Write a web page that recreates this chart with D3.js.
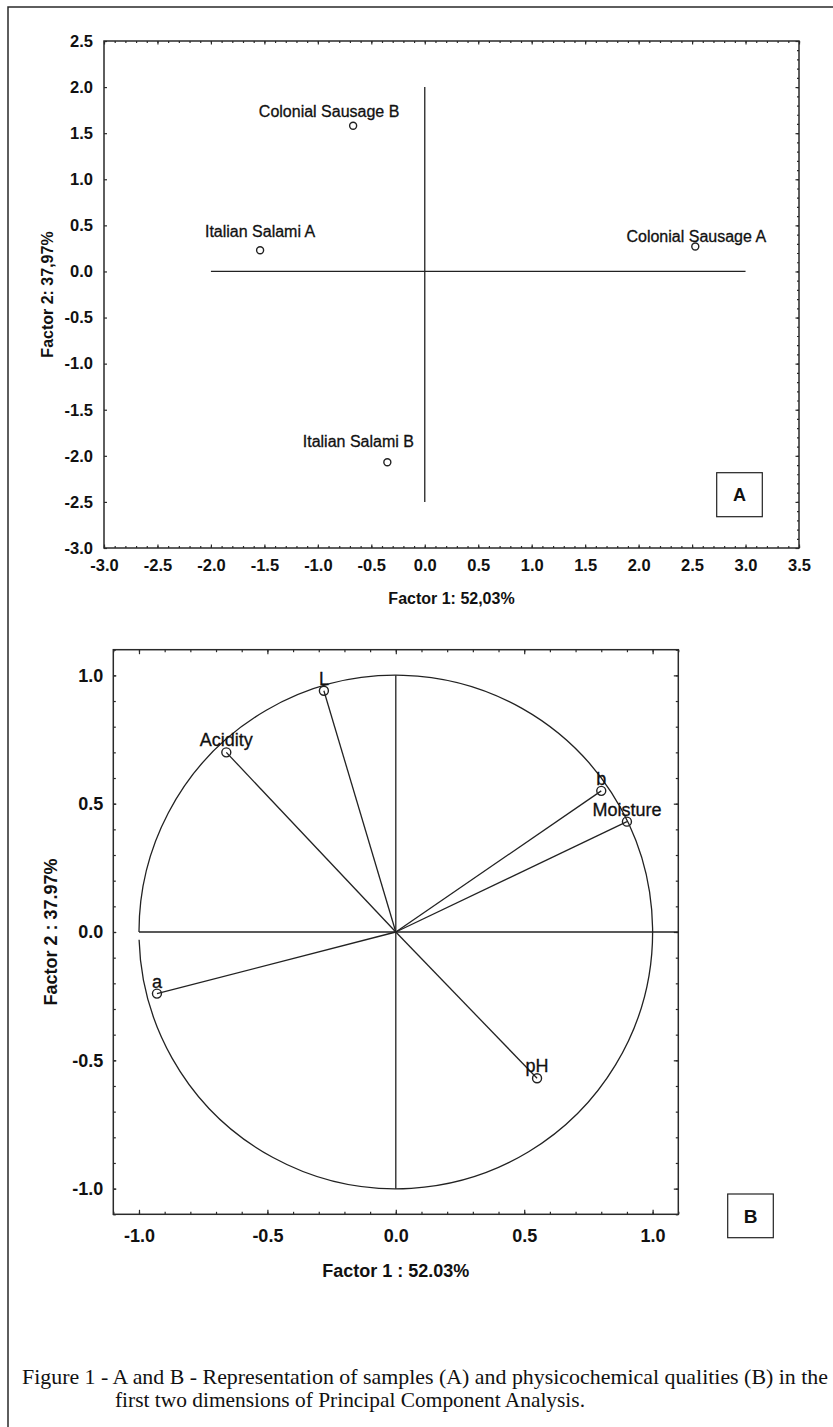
<!DOCTYPE html>
<html>
<head>
<meta charset="utf-8">
<script src="https://cdn.jsdelivr.net/npm/d3@7"></script>
<style>
  body { margin: 0; background: #fff; }
  svg { display: block; font-family: "Liberation Sans", Arial, sans-serif; }
  .frame { fill: none; stroke: #2a2a2a; stroke-width: 1.5; }
  .tick line { stroke: #2a2a2a; stroke-width: 1.2; }
  .domain { display: none; }
  .tick text { fill: #111; font-weight: bold; }
  .ref { stroke: #222; stroke-width: 1.3; fill: none; }
  .pt { fill: #fff; stroke: #222; stroke-width: 1.4; }
  .lbl { fill: #111; stroke: #111; stroke-width: 0.3; }
  .title { fill: #111; font-weight: bold; }
  .box { fill: #fff; stroke: #222; stroke-width: 1.2; }
  .caption { font-family: "Liberation Serif", "Times New Roman", serif; fill: #111; }
</style>
</head>
<body>
<svg id="fig" width="833" height="1427"></svg>
<script>
// samples (plot A)
var sampleNames = ['Colonial Sausage B', 'Italian Salami A', 'Colonial Sausage A', 'Italian Salami B'],
    sampleF1 = [-0.67, -1.54, 2.53, -0.35],
    sampleF2 = [1.58, 0.23, 0.27, -2.07];

// variables (plot B)
var varNames = ['L', 'Acidity', 'b', 'Moisture', 'a', 'pH'],
    varF1 = [-0.28, -0.66, 0.80, 0.90, -0.93, 0.55],
    varF2 = [0.94, 0.70, 0.55, 0.43, -0.24, -0.57];

// axis ticks and titles
var ticksA_x = d3.range(-30, 36, 5).map(function(d) { return d / 10; }),
    ticksA_y = d3.range(-30, 26, 5).map(function(d) { return d / 10; }),
    ticksB = [-1, -0.5, 0, 0.5, 1],
    titlesA = ['Factor 1: 52,03%', 'Factor 2: 37,97%'],
    titlesB = ['Factor 1 : 52.03%', 'Factor 2 : 37.97%'],
    // reference lines through the origin
    hLineA = [-2, 3], vLineA = [2, -2.5],
    hLineB = [-1, 1.1], vLineB = [1, -1];

var caption = ['Figure 1 - A and B - Representation of samples (A) and physicochemical qualities (B) in the',
               'first two dimensions of Principal Component Analysis.'];

var svg = d3.select('#fig'),
    fmt = function(d) { return d.toFixed(1); },
    minor = function(lo, hi) { return d3.range(Math.round(lo * 10), Math.round(hi * 10) + 1).map(function(d) { return d / 10; }); };

// outer border (top and left only visible)
svg.append('path').attr('class', 'frame').attr('stroke-width', 1.3)
  .attr('d', 'M8,1427 V7 H833');

//
// helper: box with inward ticks on all sides
var drawAxes = function(g, x, y, o) {
  var w = x.range()[1], h = y.range()[0];
  var xd = x.domain(), yd = y.domain();
  // minor ticks
  g.append('g').attr('transform', 'translate(0,' + h + ')')
    .call(d3.axisBottom(x).tickValues(minor(xd[0], xd[1])).tickSize(-o.minor).tickFormat(''));
  g.append('g')
    .call(d3.axisTop(x).tickValues(minor(xd[0], xd[1])).tickSize(-o.minor).tickFormat(''));
  g.append('g').attr('transform', 'translate(' + w + ',0)')
    .call(d3.axisRight(y).tickValues(minor(yd[0], yd[1])).tickSize(-o.minor).tickFormat(''));
  if (o.leftMinor)
    g.append('g').call(d3.axisLeft(y).tickValues(minor(yd[0], yd[1])).tickSize(-o.minor).tickFormat(''));
  // major ticks + labels
  g.append('g').attr('transform', 'translate(0,' + h + ')')
    .call(d3.axisBottom(x).tickValues(o.xt).tickSize(-o.major).tickPadding(o.xpad).tickFormat(fmt))
    .selectAll('text').style('font-size', o.fs + 'px');
  g.append('g')
    .call(d3.axisTop(x).tickValues(o.xt).tickSize(-o.major).tickFormat(''));
  g.append('g').attr('transform', 'translate(' + w + ',0)')
    .call(d3.axisRight(y).tickValues(o.yt).tickSize(-o.major).tickFormat(''));
  g.append('g')
    .call(d3.axisLeft(y).tickValues(o.yt).tickSize(-o.leftMajor).tickPadding(o.ypad).tickFormat(fmt))
    .selectAll('text').style('font-size', o.fs + 'px');
  g.append('rect').attr('class', 'frame').attr('width', w).attr('height', h);
};

//
// Plot A: samples
var plotA = function() {
  var left = 104, top = 41, width = 695, height = 507,
      x = d3.scaleLinear().domain([-3, 3.5]).range([0, width]),
      y = d3.scaleLinear().domain([-3, 2.5]).range([height, 0]),
      g = svg.append('g').attr('transform', 'translate(' + left + ',' + top + ')'),
      labelDx = [-24, 0, 1, -29],
      labelDy = [-9, -13, -5, -15];

  drawAxes(g, x, y, { xt: ticksA_x, yt: ticksA_y, major: 3.5, minor: 2, leftMajor: 3,
                      leftMinor: false, xpad: 11, ypad: 11, fs: 16.5 });

  g.append('line').attr('class', 'ref')
    .attr('x1', x(hLineA[0])).attr('x2', x(hLineA[1])).attr('y1', y(0)).attr('y2', y(0));
  g.append('line').attr('class', 'ref')
    .attr('x1', x(0)).attr('x2', x(0)).attr('y1', y(vLineA[0])).attr('y2', y(vLineA[1]));

  var idx = d3.range(sampleNames.length);
  g.selectAll('text.lbl').data(idx).enter()
    .append('text').attr('class', 'lbl')
    .attr('x', function(i) { return x(sampleF1[i]) + labelDx[i]; })
    .attr('y', function(i) { return y(sampleF2[i]) + labelDy[i]; })
    .attr('text-anchor', 'middle')
    .style('font-size', '16px')
    .text(function(i) { return sampleNames[i]; });
  g.selectAll('circle.pt').data(idx).enter()
    .append('circle').attr('class', 'pt')
    .attr('cx', function(i) { return x(sampleF1[i]); })
    .attr('cy', function(i) { return y(sampleF2[i]); })
    .attr('r', 3.5);

  g.append('text').attr('class', 'title')
    .attr('x', width / 2).attr('y', height + 56)
    .attr('text-anchor', 'middle').style('font-size', '16px')
    .text(titlesA[0]);
  g.append('text').attr('class', 'title')
    .attr('transform', 'translate(' + (-51) + ',' + (height / 2) + ') rotate(-90)')
    .attr('text-anchor', 'middle').style('font-size', '16px')
    .text(titlesA[1]);

  svg.append('rect').attr('class', 'box').attr('x', 716.7).attr('y', 472.7).attr('width', 45.6).attr('height', 44);
  svg.append('text').attr('class', 'title').attr('x', 739.5).attr('y', 501)
    .attr('text-anchor', 'middle').style('font-size', '18px').text('A');
};

//
// Plot B: correlation circle
var plotB = function() {
  var left = 113.3, top = 649.7, width = 565, height = 564.6,
      x = d3.scaleLinear().domain([-1.1, 1.1]).range([0, width]),
      y = d3.scaleLinear().domain([-1.1, 1.1]).range([height, 0]),
      g = svg.append('g').attr('transform', 'translate(' + left + ',' + top + ')');

  drawAxes(g, x, y, { xt: ticksB, yt: ticksB, major: 4.5, minor: 2.5, leftMajor: 3,
                      leftMinor: true, xpad: 15, ypad: 10, fs: 18 });

  var cx = x(0), cy = y(0), r = x(1) - x(0), gap = 0.03;
  var p = d3.path();
  p.arc(cx, cy, r, Math.PI, 3 * Math.PI - gap);
  g.append('path').attr('class', 'ref').attr('d', p.toString());

  g.append('line').attr('class', 'ref')
    .attr('x1', x(hLineB[0])).attr('x2', x(hLineB[1])).attr('y1', cy).attr('y2', cy);
  g.append('line').attr('class', 'ref')
    .attr('x1', cx).attr('x2', cx).attr('y1', y(vLineB[0])).attr('y2', y(vLineB[1]));

  var idx = d3.range(varNames.length);
  g.selectAll('line.vec').data(idx).enter()
    .append('line').attr('class', 'ref vec')
    .attr('x1', cx).attr('y1', cy)
    .attr('x2', function(i) { return x(varF1[i]); })
    .attr('y2', function(i) { return y(varF2[i]); });
  g.selectAll('text.lbl').data(idx).enter()
    .append('text').attr('class', 'lbl')
    .attr('x', function(i) { return x(varF1[i]); })
    .attr('y', function(i) { return y(varF2[i]) - 6; })
    .attr('text-anchor', 'middle')
    .style('font-size', '18px')
    .text(function(i) { return varNames[i]; });
  g.selectAll('circle.pt').data(idx).enter()
    .append('circle').attr('class', 'pt').style('fill', 'none')
    .attr('cx', function(i) { return x(varF1[i]); })
    .attr('cy', function(i) { return y(varF2[i]); })
    .attr('r', 4.5);

  g.append('text').attr('class', 'title')
    .attr('x', x(0)).attr('y', height + 63)
    .attr('text-anchor', 'middle').style('font-size', '18px')
    .text(titlesB[0]);
  g.append('text').attr('class', 'title')
    .attr('transform', 'translate(' + (-56) + ',' + (height / 2) + ') rotate(-90)')
    .attr('text-anchor', 'middle').style('font-size', '18px')
    .text(titlesB[1]);

  svg.append('rect').attr('class', 'box').attr('x', 727.7).attr('y', 1194).attr('width', 45.6).attr('height', 43.7);
  svg.append('text').attr('class', 'title').attr('x', 750.5).attr('y', 1223)
    .attr('text-anchor', 'middle').style('font-size', '19px').text('B');
};

plotA();
plotB();

// caption
svg.append('text').attr('class', 'caption').attr('x', 22).attr('y', 1384)
  .style('font-size', '21px').attr('textLength', 806).attr('lengthAdjust', 'spacingAndGlyphs')
  .text(caption[0]);
svg.append('text').attr('class', 'caption').attr('x', 115).attr('y', 1407)
  .style('font-size', '21px').attr('textLength', 470).attr('lengthAdjust', 'spacingAndGlyphs')
  .text(caption[1]);
</script>
</body>
</html>
